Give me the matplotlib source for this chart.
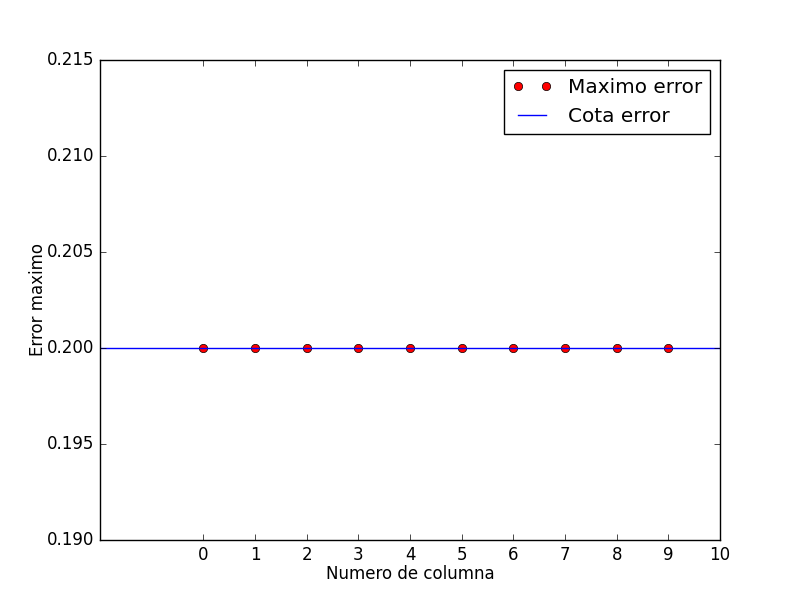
import matplotlib
matplotlib.use('Agg')
import matplotlib.pyplot as plt

plt.style.use('classic')

columns = list(range(10))
max_error = [0.2] * 10
error_bound = 0.2
xticks = list(range(11))

fig = plt.figure(figsize=(8, 6), dpi=100)
ax = fig.add_subplot(111)
ax.plot(columns, max_error, 'ro', label='Maximo error')
ax.axhline(error_bound, color='b', label='Cota error')
ax.set_xlim(-2, 10)
ax.set_ylim(0.190, 0.215)
ax.set_xticks(xticks)
ax.set_xlabel('Numero de columna', labelpad=1)
ax.set_ylabel('Error maximo', labelpad=0)
ax.legend(loc='upper right', numpoints=2)
fig.savefig('out.png', dpi=100)
